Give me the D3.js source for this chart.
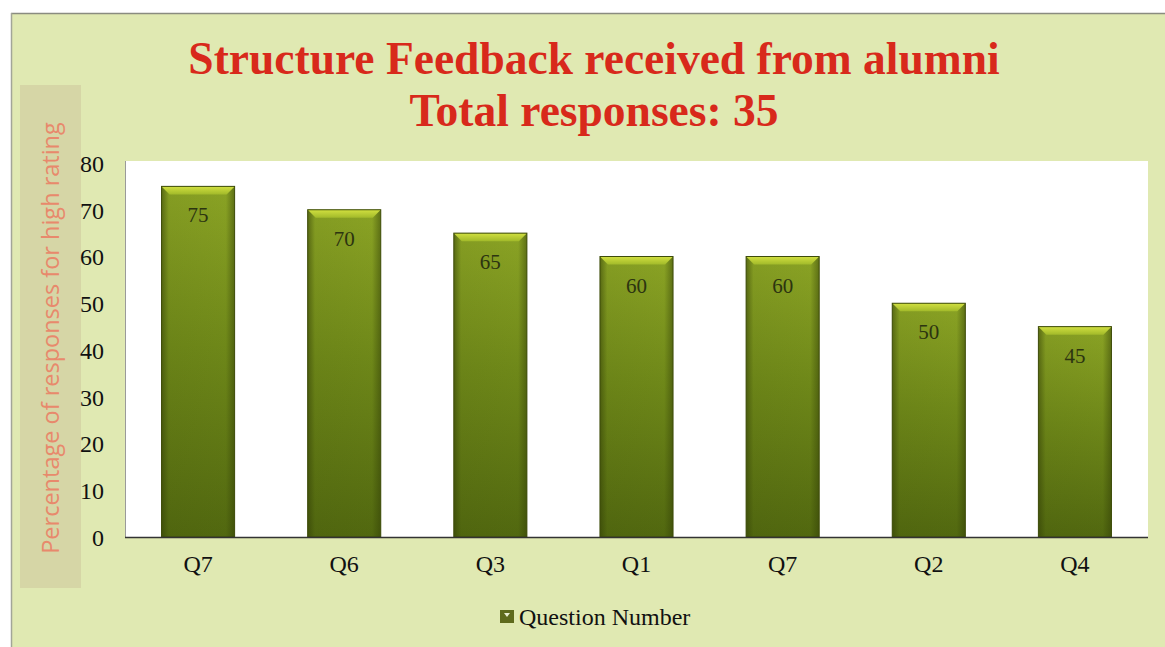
<!DOCTYPE html>
<html>
<head>
<meta charset="utf-8">
<script src="https://cdn.jsdelivr.net/npm/d3@7"></script>
<style>
  body { margin: 0; background: #ffffff; }
  svg { display: block; }
</style>
</head>
<body>
<div id="chart"></div>
<script>
// chart data
var questions = ["Q7", "Q6", "Q3", "Q1", "Q7", "Q2", "Q4"];
var percents = [75, 70, 65, 60, 60, 50, 45];
var yTicks = [0, 10, 20, 30, 40, 50, 60, 70, 80];
var titleLines = ["Structure Feedback received from alumni", "Total responses: 35"];
var yTitle = "Percentage of responses for high rating";
var legendLabel = "Question Number";

var svgWidth = 1165;
var svgHeight = 647;

var plot = { left: 125, right: 1148, top: 161, bottom: 537 };

var svg = d3.select("#chart")
  .append("svg")
  .attr("width", svgWidth)
  .attr("height", svgHeight);

var defs = svg.append("defs");

// bar body gradient (vertical)
var gBody = defs.append("linearGradient")
  .attr("id", "barBody")
  .attr("x1", 0).attr("y1", 0).attr("x2", 0).attr("y2", 1);
gBody.append("stop").attr("offset", "0%").attr("stop-color", "#8fa826");
gBody.append("stop").attr("offset", "45%").attr("stop-color", "#728c1a");
gBody.append("stop").attr("offset", "100%").attr("stop-color", "#536a10");

// side shading (horizontal)
var gSide = defs.append("linearGradient")
  .attr("id", "barSide")
  .attr("x1", 0).attr("y1", 0).attr("x2", 1).attr("y2", 0);
gSide.append("stop").attr("offset", "0%").attr("stop-color", "#2e3a05").attr("stop-opacity", 0.55);
gSide.append("stop").attr("offset", "10%").attr("stop-color", "#2e3a05").attr("stop-opacity", 0.1);
gSide.append("stop").attr("offset", "88%").attr("stop-color", "#2e3a05").attr("stop-opacity", 0.05);
gSide.append("stop").attr("offset", "100%").attr("stop-color", "#2e3a05").attr("stop-opacity", 0.5);

// top bevel gradient
var gTop = defs.append("linearGradient")
  .attr("id", "barTop")
  .attr("x1", 0).attr("y1", 0).attr("x2", 0).attr("y2", 1);
gTop.append("stop").attr("offset", "0%").attr("stop-color", "#d2e040");
gTop.append("stop").attr("offset", "100%").attr("stop-color", "#a2ba2a");

// page background and frame
svg.append("rect")
  .attr("x", 11).attr("y", 13)
  .attr("width", svgWidth - 11).attr("height", svgHeight - 13)
  .attr("fill", "#e0e9b2");
svg.append("line")
  .attr("x1", 11).attr("x2", svgWidth).attr("y1", 13.5).attr("y2", 13.5)
  .attr("stroke", "#8a8c80").attr("stroke-width", 1.5);
svg.append("line")
  .attr("x1", 11.5).attr("x2", 11.5).attr("y1", 13).attr("y2", svgHeight)
  .attr("stroke", "#a2a598").attr("stroke-width", 1.5);

// y title box
svg.append("rect")
  .attr("x", 20).attr("y", 85)
  .attr("width", 61).attr("height", 503)
  .attr("fill", "#d6d6a6");

// plot area
svg.append("rect")
  .attr("x", plot.left).attr("y", plot.top)
  .attr("width", plot.right - plot.left).attr("height", plot.bottom - plot.top)
  .attr("fill", "#ffffff");
svg.append("line")
  .attr("x1", plot.left + 0.5).attr("x2", plot.left + 0.5)
  .attr("y1", plot.top).attr("y2", plot.bottom)
  .attr("stroke", "#9a9a9a").attr("stroke-width", 1);

// scales
var xScale = d3.scaleBand()
  .domain(d3.range(questions.length))
  .range([plot.left, plot.right])
  .paddingInner(0.5)
  .paddingOuter(0.25);

var yScale = d3.scaleLinear()
  .domain([0, 80])
  .range([plot.bottom, plot.top + 2]);

// y axis
var leftAxis = d3.axisLeft(yScale)
  .tickValues(yTicks)
  .tickSize(0)
  .tickPadding(0);

var yAxis = svg.append("g")
  .attr("transform", "translate(104, 0)")
  .call(leftAxis);
yAxis.select(".domain").remove();
yAxis.selectAll("text")
  .attr("font-family", "'Liberation Serif', 'Times New Roman', serif")
  .attr("font-size", 24)
  .attr("fill", "#111111")
  .attr("dy", "0.35em");

// x axis
var bottomAxis = d3.axisBottom(xScale)
  .tickFormat(i => questions[i])
  .tickSize(0)
  .tickPadding(18);

var xAxis = svg.append("g")
  .attr("transform", `translate(0, ${plot.bottom})`)
  .call(bottomAxis);
xAxis.select(".domain").remove();
xAxis.selectAll("text")
  .attr("font-family", "'Liberation Serif', 'Times New Roman', serif")
  .attr("font-size", 24)
  .attr("fill", "#111111");

// bars
var bars = svg.append("g")
  .selectAll("g")
  .data(percents)
  .enter()
  .append("g");

bars.append("rect")
  .attr("x", (d, i) => xScale(i))
  .attr("y", d => yScale(d))
  .attr("width", xScale.bandwidth())
  .attr("height", d => yScale(0) - yScale(d))
  .attr("fill", "url(#barBody)");

bars.append("rect")
  .attr("x", (d, i) => xScale(i))
  .attr("y", d => yScale(d))
  .attr("width", xScale.bandwidth())
  .attr("height", d => yScale(0) - yScale(d))
  .attr("fill", "url(#barSide)");

var bevel = 8;
bars.append("polygon")
  .attr("points", (d, i) => {
    var x0 = xScale(i), x1 = x0 + xScale.bandwidth(), y0 = yScale(d);
    return [[x0, y0], [x1, y0], [x1 - bevel, y0 + bevel], [x0 + bevel, y0 + bevel]].join(" ");
  })
  .attr("fill", "url(#barTop)");

bars.append("rect")
  .attr("x", (d, i) => xScale(i))
  .attr("y", d => yScale(d))
  .attr("width", xScale.bandwidth())
  .attr("height", d => yScale(0) - yScale(d))
  .attr("fill", "none")
  .attr("stroke", "#3e4c0a")
  .attr("stroke-width", 1);

// value labels
bars.append("text")
  .attr("x", (d, i) => xScale(i) + xScale.bandwidth() / 2)
  .attr("y", d => yScale(d) + 36)
  .attr("text-anchor", "middle")
  .attr("font-family", "'Liberation Serif', 'Times New Roman', serif")
  .attr("font-size", 21)
  .attr("fill", "#2c3410")
  .text(d => d);

// baseline
svg.append("line")
  .attr("x1", plot.left).attr("x2", plot.right)
  .attr("y1", plot.bottom + 0.5).attr("y2", plot.bottom + 0.5)
  .attr("stroke", "#333333").attr("stroke-width", 1.5);

// title
svg.append("g")
  .selectAll("text")
  .data(titleLines)
  .enter()
  .append("text")
  .attr("x", 594)
  .attr("y", (d, i) => 74 + i * 52)
  .attr("text-anchor", "middle")
  .attr("font-family", "'Liberation Serif', 'Times New Roman', serif")
  .attr("font-weight", "bold")
  .attr("font-size", 45.5)
  .attr("fill", "#d8291b")
  .text(d => d);

// y axis title
svg.append("text")
  .attr("transform", "translate(59, 338) rotate(-90)")
  .attr("text-anchor", "middle")
  .attr("font-family", "'Open Sans', 'DejaVu Sans', sans-serif")
  .attr("font-size", 23.5)
  .attr("fill", "#e8896c")
  .text(yTitle);

// legend
var legend = svg.append("g")
  .attr("transform", "translate(500, 610)");
legend.append("rect")
  .attr("width", 14).attr("height", 13)
  .attr("fill", "#5e6a1c");
legend.append("polygon")
  .attr("points", "4,3 10,3 7,7")
  .attr("fill", "#e8edd0");
legend.append("text")
  .attr("x", 19)
  .attr("y", 15)
  .attr("font-family", "'Liberation Serif', 'Times New Roman', serif")
  .attr("font-size", 24)
  .attr("fill", "#111111")
  .text(legendLabel);
</script>
</body>
</html>
